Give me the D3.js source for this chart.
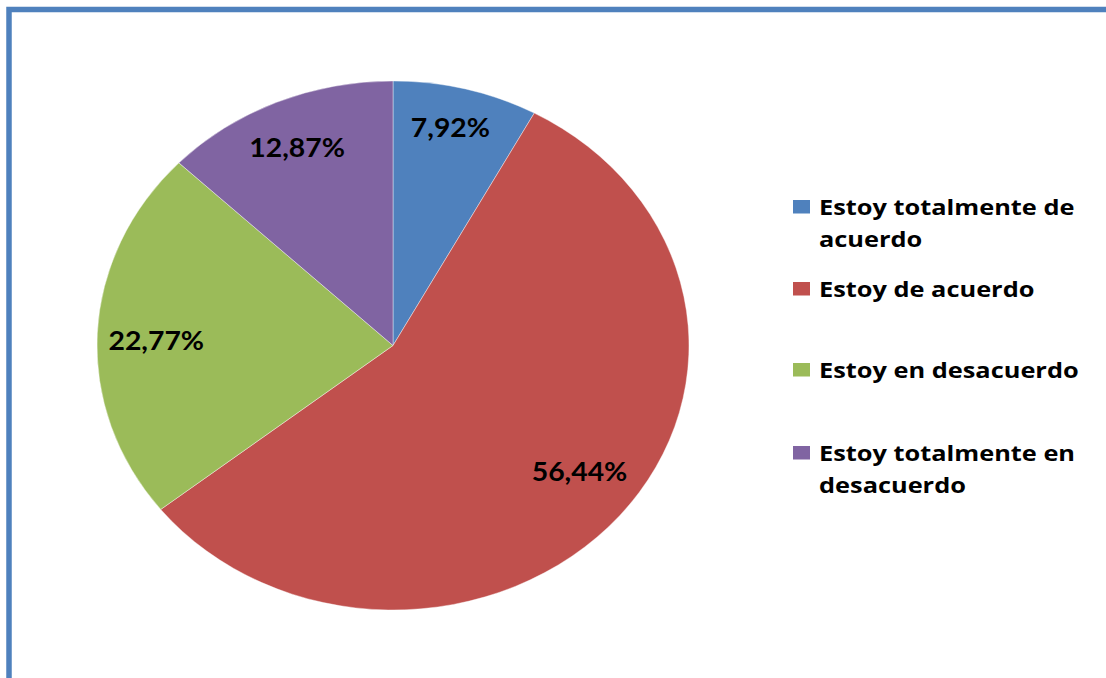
<!DOCTYPE html>
<html>
<head>
<meta charset="utf-8">
<script src="https://cdn.jsdelivr.net/npm/d3@7"></script>
<style>
  html, body { margin: 0; padding: 0; background: #ffffff; }
  svg { display: block; }
</style>
</head>
<body>
<svg id="chart" width="1106" height="678"></svg>
<script>
// Survey responses (percent of respondents)
const categories = [
  "Estoy totalmente de acuerdo",
  "Estoy de acuerdo",
  "Estoy en desacuerdo",
  "Estoy totalmente en desacuerdo"
];
const values = [7.92, 56.44, 22.77, 12.87];
const legendLines = [
  ["Estoy totalmente de", "acuerdo"],
  ["Estoy de acuerdo"],
  ["Estoy en desacuerdo"],
  ["Estoy totalmente en", "desacuerdo"]
];
const colors = ["#4F81BD", "#C0504D", "#9BBB59", "#8064A2"];

// Layout: relative radius and angular nudge (degrees) of each value label
const labelRadius = [0.846, 0.789, 0.80, 0.817];
const labelNudge = [-1.0, -3.1, -1.2, -0.2];

const fmt = v => v.toFixed(2).replace(".", ",") + "%";

const svg = d3.select("#chart");
const W = 1106, H = 678;

// Chart frame (extends past the right and bottom edges)
svg.append("rect")
  .attr("x", 9).attr("y", 9.5)
  .attr("width", W + 20).attr("height", H + 20)
  .attr("fill", "#ffffff")
  .attr("stroke", "#4F81BD")
  .attr("stroke-width", 5.5);

// Pie, drawn as an ellipse: radius ry, stretched horizontally
const cx = 393, cy = 345.5, rx = 296, ry = 264.5;
const sx = rx / ry;

const pie = d3.pie().sort(null).value(d => d);
const arcs = pie(values);
const arc = d3.arc().innerRadius(0).outerRadius(ry);

const g = svg.append("g").attr("transform", `translate(${cx},${cy})`);

g.append("g").attr("transform", `scale(${sx},1)`)
  .selectAll("path")
  .data(arcs)
  .join("path")
  .attr("d", arc)
  .attr("fill", (d, i) => colors[i])
  .attr("stroke", "#ffffff")
  .attr("stroke-opacity", 0.5)
  .attr("stroke-width", 0.8)
  .attr("vector-effect", "non-scaling-stroke");

g.selectAll("text.val")
  .data(arcs)
  .join("text")
  .attr("class", "val")
  .attr("transform", (d, i) => {
    const a = (d.startAngle + d.endAngle) / 2 + labelNudge[i] * Math.PI / 180;
    const r = ry * labelRadius[i];
    const x = Math.sin(a) * r * sx;
    const y = -Math.cos(a) * r;
    return `translate(${x},${y}) scale(1.07,1)`;
  })
  .attr("text-anchor", "middle")
  .attr("dy", "0.36em")
  .attr("font-family", "Lato, 'Open Sans', sans-serif")
  .attr("font-weight", "bold")
  .attr("font-size", 26.5)
  .attr("fill", "#000000")
  .text(d => fmt(d.data));

// Legend
const legendX = 793, textX = 819;
const legendTops = [200, 282, 363, 446];
const lineH = 31.7;

const lg = svg.append("g");
categories.forEach((c, i) => {
  const item = lg.append("g");
  item.append("rect")
    .attr("x", legendX).attr("y", legendTops[i])
    .attr("width", 17).attr("height", 13.5)
    .attr("fill", colors[i]);
  legendLines[i].forEach((ln, j) => {
    item.append("text")
      .attr("transform", `translate(${textX},${legendTops[i] + 15 + j * lineH}) scale(1.18,1)`)
      .attr("font-family", "'Open Sans', Lato, sans-serif")
      .attr("font-weight", "bold")
      .attr("font-size", 21.5)
      .attr("fill", "#000000")
      .text(ln);
  });
});
</script>
</body>
</html>
